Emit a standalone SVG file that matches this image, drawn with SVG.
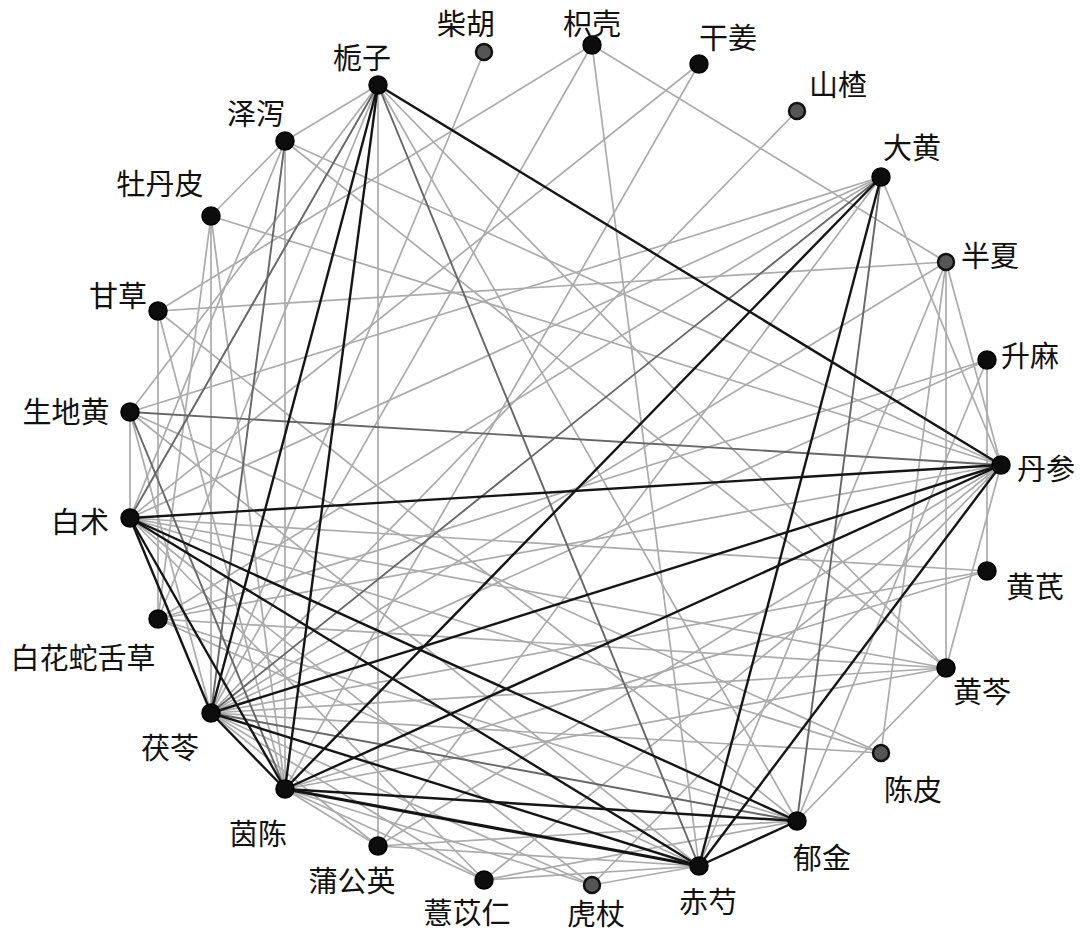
<svg xmlns="http://www.w3.org/2000/svg" width="1080" height="932" viewBox="0 0 1080 932">
<style>
.l{stroke:#ababab;stroke-width:1.7;fill:none}
.m{stroke:#666;stroke-width:1.9;fill:none}
.d{stroke:#151515;stroke-width:2.4;fill:none}
.n{fill:#0d0d0d;stroke:#000;stroke-width:1.5}
.g{fill:#555;stroke:#111;stroke-width:2.5}
text{font-family:"Noto Sans CJK SC","Noto Sans CJK JP",sans-serif;font-size:29px;fill:#111;text-anchor:middle;dominant-baseline:central}
</style>
<rect width="1080" height="932" fill="#fff"/>
<g id="edges">
<line class="l" x1="484" y1="52" x2="211" y2="713"/>
<line class="l" x1="592" y1="45" x2="158" y2="311"/>
<line class="l" x1="592" y1="45" x2="211" y2="713"/>
<line class="l" x1="592" y1="45" x2="699" y2="866"/>
<line class="l" x1="592" y1="45" x2="946" y2="262"/>
<line class="l" x1="699" y1="64" x2="130" y2="518"/>
<line class="l" x1="699" y1="64" x2="285" y2="789"/>
<line class="l" x1="797" y1="111" x2="211" y2="713"/>
<line class="l" x1="881" y1="177" x2="130" y2="412"/>
<line class="l" x1="881" y1="177" x2="130" y2="518"/>
<line class="l" x1="881" y1="177" x2="158" y2="619"/>
<line class="l" x1="881" y1="177" x2="378" y2="846"/>
<line class="l" x1="881" y1="177" x2="1001" y2="465"/>
<line class="l" x1="946" y1="262" x2="158" y2="311"/>
<line class="l" x1="946" y1="262" x2="211" y2="713"/>
<line class="l" x1="946" y1="262" x2="699" y2="866"/>
<line class="l" x1="946" y1="262" x2="881" y2="753"/>
<line class="l" x1="946" y1="262" x2="946" y2="668"/>
<line class="l" x1="946" y1="262" x2="1001" y2="465"/>
<line class="l" x1="987" y1="360" x2="211" y2="713"/>
<line class="l" x1="987" y1="360" x2="158" y2="619"/>
<line class="l" x1="987" y1="360" x2="987" y2="571"/>
<line class="l" x1="987" y1="360" x2="797" y2="821"/>
<line class="l" x1="211" y1="216" x2="285" y2="141"/>
<line class="l" x1="211" y1="216" x2="1001" y2="465"/>
<line class="l" x1="211" y1="216" x2="211" y2="713"/>
<line class="l" x1="211" y1="216" x2="285" y2="789"/>
<line class="l" x1="211" y1="216" x2="158" y2="619"/>
<line class="l" x1="285" y1="141" x2="378" y2="85"/>
<line class="l" x1="285" y1="141" x2="1001" y2="465"/>
<line class="l" x1="285" y1="141" x2="285" y2="789"/>
<line class="l" x1="285" y1="141" x2="130" y2="518"/>
<line class="l" x1="285" y1="141" x2="946" y2="668"/>
<line class="l" x1="158" y1="311" x2="797" y2="821"/>
<line class="l" x1="158" y1="311" x2="158" y2="619"/>
<line class="l" x1="158" y1="311" x2="285" y2="789"/>
<line class="l" x1="130" y1="412" x2="130" y2="518"/>
<line class="l" x1="130" y1="412" x2="881" y2="753"/>
<line class="l" x1="130" y1="412" x2="211" y2="713"/>
<line class="l" x1="130" y1="412" x2="699" y2="866"/>
<line class="l" x1="130" y1="518" x2="946" y2="668"/>
<line class="l" x1="130" y1="518" x2="987" y2="571"/>
<line class="l" x1="130" y1="518" x2="592" y2="885"/>
<line class="l" x1="130" y1="518" x2="484" y2="880"/>
<line class="l" x1="130" y1="518" x2="881" y2="753"/>
<line class="l" x1="158" y1="619" x2="1001" y2="465"/>
<line class="l" x1="158" y1="619" x2="946" y2="668"/>
<line class="l" x1="158" y1="619" x2="699" y2="866"/>
<line class="l" x1="158" y1="619" x2="797" y2="821"/>
<line class="l" x1="378" y1="85" x2="378" y2="846"/>
<line class="l" x1="378" y1="85" x2="130" y2="412"/>
<line class="l" x1="378" y1="85" x2="158" y2="619"/>
<line class="l" x1="378" y1="85" x2="797" y2="821"/>
<line class="l" x1="378" y1="85" x2="946" y2="668"/>
<line class="l" x1="881" y1="753" x2="211" y2="713"/>
<line class="l" x1="946" y1="668" x2="285" y2="789"/>
<line class="l" x1="946" y1="668" x2="211" y2="713"/>
<line class="l" x1="946" y1="668" x2="1001" y2="465"/>
<line class="l" x1="946" y1="668" x2="797" y2="821"/>
<line class="l" x1="987" y1="571" x2="211" y2="713"/>
<line class="l" x1="987" y1="571" x2="285" y2="789"/>
<line class="l" x1="592" y1="885" x2="699" y2="866"/>
<line class="l" x1="592" y1="885" x2="285" y2="789"/>
<line class="l" x1="592" y1="885" x2="211" y2="713"/>
<line class="l" x1="592" y1="885" x2="1001" y2="465"/>
<line class="l" x1="484" y1="880" x2="285" y2="789"/>
<line class="l" x1="484" y1="880" x2="211" y2="713"/>
<line class="l" x1="484" y1="880" x2="699" y2="866"/>
<line class="l" x1="484" y1="880" x2="1001" y2="465"/>
<line class="l" x1="484" y1="880" x2="797" y2="821"/>
<line class="l" x1="378" y1="846" x2="285" y2="789"/>
<line class="l" x1="378" y1="846" x2="211" y2="713"/>
<line class="l" x1="378" y1="846" x2="699" y2="866"/>
<line class="l" x1="378" y1="846" x2="797" y2="821"/>
<line class="l" x1="378" y1="846" x2="1001" y2="465"/>
<line class="m" x1="378" y1="85" x2="699" y2="866"/>
<line class="m" x1="378" y1="85" x2="130" y2="518"/>
<line class="m" x1="881" y1="177" x2="211" y2="713"/>
<line class="m" x1="881" y1="177" x2="797" y2="821"/>
<line class="m" x1="130" y1="412" x2="1001" y2="465"/>
<line class="m" x1="130" y1="412" x2="285" y2="789"/>
<line class="m" x1="211" y1="713" x2="797" y2="821"/>
<line class="m" x1="285" y1="141" x2="211" y2="713"/>
<line class="d" x1="378" y1="85" x2="1001" y2="465"/>
<line class="d" x1="378" y1="85" x2="285" y2="789"/>
<line class="d" x1="378" y1="85" x2="211" y2="713"/>
<line class="d" x1="881" y1="177" x2="285" y2="789"/>
<line class="d" x1="881" y1="177" x2="699" y2="866"/>
<line class="d" x1="1001" y1="465" x2="130" y2="518"/>
<line class="d" x1="1001" y1="465" x2="285" y2="789"/>
<line class="d" x1="1001" y1="465" x2="211" y2="713"/>
<line class="d" x1="1001" y1="465" x2="699" y2="866"/>
<line class="d" x1="285" y1="789" x2="699" y2="866" style="stroke-width:3.2"/>
<line class="d" x1="285" y1="789" x2="797" y2="821"/>
<line class="d" x1="285" y1="789" x2="130" y2="518"/>
<line class="d" x1="285" y1="789" x2="211" y2="713"/>
<line class="d" x1="130" y1="518" x2="211" y2="713"/>
<line class="d" x1="130" y1="518" x2="699" y2="866"/>
<line class="d" x1="130" y1="518" x2="797" y2="821"/>
<line class="d" x1="211" y1="713" x2="699" y2="866"/>
<line class="d" x1="797" y1="821" x2="699" y2="866"/>
</g>
<g id="n-zhizi"><circle class="n" cx="378" cy="85" r="9"/><text x="362" y="56">栀子</text></g>
<g id="n-chaihu"><circle class="g" cx="484" cy="52" r="8"/><text x="466" y="22">柴胡</text></g>
<g id="n-zhiqiao"><circle class="n" cx="592" cy="45" r="9"/><text x="592" y="22">枳壳</text></g>
<g id="n-ganjiang"><circle class="n" cx="699" cy="64" r="9"/><text x="728" y="36">干姜</text></g>
<g id="n-shanzha"><circle class="g" cx="797" cy="111" r="8"/><text x="838" y="83">山楂</text></g>
<g id="n-dahuang"><circle class="n" cx="881" cy="177" r="9"/><text x="912" y="146">大黄</text></g>
<g id="n-banxia"><circle class="g" cx="946" cy="262" r="8"/><text x="990" y="254">半夏</text></g>
<g id="n-shengma"><circle class="n" cx="987" cy="360" r="9"/><text x="1030" y="354">升麻</text></g>
<g id="n-danshen"><circle class="n" cx="1001" cy="465" r="9"/><text x="1046" y="467">丹参</text></g>
<g id="n-huangqi"><circle class="n" cx="987" cy="571" r="9"/><text x="1035" y="585">黄芪</text></g>
<g id="n-huangqin"><circle class="n" cx="946" cy="668" r="9"/><text x="982" y="690">黄芩</text></g>
<g id="n-chenpi"><circle class="g" cx="881" cy="753" r="8"/><text x="913" y="788">陈皮</text></g>
<g id="n-yujin"><circle class="n" cx="797" cy="821" r="9"/><text x="822" y="856">郁金</text></g>
<g id="n-chishao"><circle class="n" cx="699" cy="866" r="9"/><text x="708" y="900">赤芍</text></g>
<g id="n-huzhang"><circle class="g" cx="592" cy="885" r="8"/><text x="596" y="912">虎杖</text></g>
<g id="n-yiyiren"><circle class="n" cx="484" cy="880" r="9"/><text x="467" y="911">薏苡仁</text></g>
<g id="n-pugongying"><circle class="n" cx="378" cy="846" r="9"/><text x="352" y="879">蒲公英</text></g>
<g id="n-yinchen"><circle class="n" cx="285" cy="789" r="9"/><text x="258" y="832">茵陈</text></g>
<g id="n-fuling"><circle class="n" cx="211" cy="713" r="9"/><text x="170" y="746">茯苓</text></g>
<g id="n-baihua"><circle class="n" cx="158" cy="619" r="9"/><text x="83" y="656">白花蛇舌草</text></g>
<g id="n-baizhu"><circle class="n" cx="130" cy="518" r="9"/><text x="80" y="520">白术</text></g>
<g id="n-shengdi"><circle class="n" cx="130" cy="412" r="9"/><text x="66" y="410">生地黄</text></g>
<g id="n-gancao"><circle class="n" cx="158" cy="311" r="9"/><text x="118" y="294">甘草</text></g>
<g id="n-mudanpi"><circle class="n" cx="211" cy="216" r="9"/><text x="160" y="182">牡丹皮</text></g>
<g id="n-zexie"><circle class="n" cx="285" cy="141" r="9"/><text x="256" y="112">泽泻</text></g>
</svg>
